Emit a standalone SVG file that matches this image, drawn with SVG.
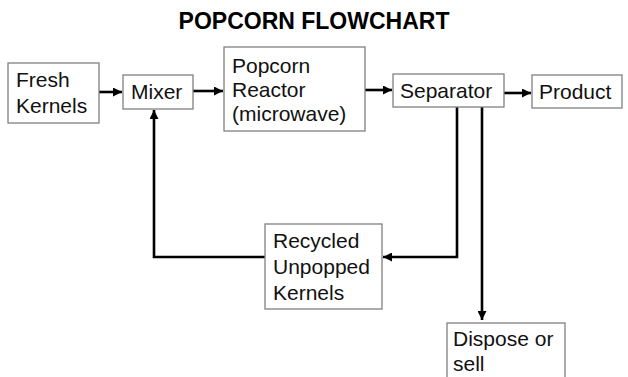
<svg xmlns="http://www.w3.org/2000/svg" width="628" height="377" viewBox="0 0 628 377">
<style>
.box{fill:#fff;stroke:#808080;stroke-width:1.3}
.t{font-family:"Liberation Sans",Arial,sans-serif;font-size:21px;fill:#111}
.title{font-family:"Liberation Sans",Arial,sans-serif;font-size:23px;font-weight:bold;fill:#000}
.c{fill:none;stroke:#000;stroke-width:2.6}
</style>
<defs>
<marker id="ah" markerUnits="userSpaceOnUse" markerWidth="10" markerHeight="9" refX="9" refY="4.5" orient="auto">
<path d="M0,0 L9,4.5 L0,9 z" fill="#000"/>
</marker>
</defs>
<rect width="628" height="377" fill="#fff"/>
<text class="title" x="314" y="29" text-anchor="middle">POPCORN FLOWCHART</text>
<g id="connectors">
<path class="c" d="M99,92 H122" marker-end="url(#ah)"/>
<path class="c" d="M193,91 H223" marker-end="url(#ah)"/>
<path class="c" d="M365,90 H392" marker-end="url(#ah)"/>
<path class="c" d="M504,93 H531" marker-end="url(#ah)"/>
<path class="c" d="M457,107 V257 H383" marker-end="url(#ah)"/>
<path class="c" d="M265,257 H154 V110" marker-end="url(#ah)"/>
<path class="c" d="M482,107 V320" marker-end="url(#ah)"/>
</g>
<g id="fresh">
<rect class="box" x="8" y="63" width="91" height="60"/>
<text class="t" x="16" y="87">Fresh</text>
<text class="t" x="16" y="113">Kernels</text>
</g>
<g id="mixer">
<rect class="box" x="123" y="75" width="70" height="34"/>
<text class="t" x="131" y="99">Mixer</text>
</g>
<g id="reactor">
<rect class="box" x="224" y="47" width="141" height="84"/>
<text class="t" x="232" y="73">Popcorn</text>
<text class="t" x="232" y="97">Reactor</text>
<text class="t" x="232" y="121">(microwave)</text>
</g>
<g id="separator">
<rect class="box" x="393" y="74" width="111" height="33"/>
<text class="t" x="400" y="98">Separator</text>
</g>
<g id="product">
<rect class="box" x="532" y="75" width="90" height="33"/>
<text class="t" x="539" y="99">Product</text>
</g>
<g id="recycled">
<rect class="box" x="265" y="224" width="117" height="85"/>
<text class="t" x="273" y="248">Recycled</text>
<text class="t" x="273" y="274">Unpopped</text>
<text class="t" x="273" y="300">Kernels</text>
</g>
<g id="dispose">
<rect class="box" x="447" y="323" width="118" height="60"/>
<text class="t" x="453" y="346">Dispose or</text>
<text class="t" x="453" y="371">sell</text>
</g>
</svg>
